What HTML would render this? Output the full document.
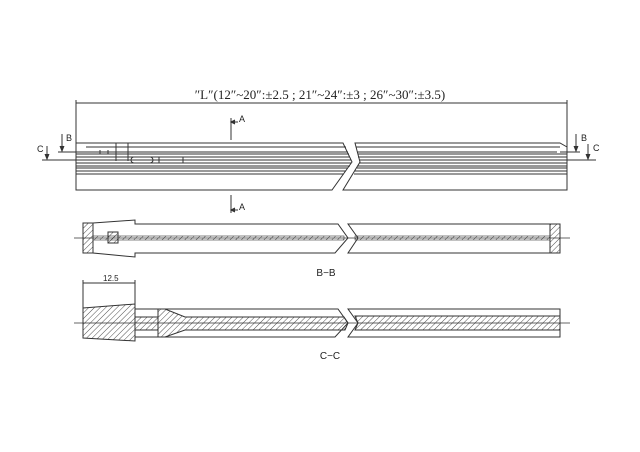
<!DOCTYPE html>
<html><head><meta charset="utf-8"><style>
body{margin:0;background:#fff}
svg{display:block}
text{font-family:"Liberation Serif","Noto Serif CJK SC",serif;fill:#222}
.s{font-family:"Liberation Sans",sans-serif}
</style></head><body>
<svg width="640" height="452" viewBox="0 0 640 452" xmlns="http://www.w3.org/2000/svg">
<defs>
<pattern id="h" width="4" height="4" patternUnits="userSpaceOnUse" patternTransform="rotate(45)">
<line x1="0" y1="0" x2="0" y2="4" stroke="#222" stroke-width="0.8"/>
</pattern>
</defs>
<g fill="none" stroke="#333" stroke-width="1">
<text x="320" y="99" text-anchor="middle" font-size="13" stroke="none">″L″(12″~20″:±2.5 ; 21″~24″:±3 ; 26″~30″:±3.5)</text>
<line x1="76" y1="103" x2="567" y2="103"/>
<line x1="76" y1="100" x2="76" y2="143"/>
<line x1="567" y1="100" x2="567" y2="148"/>
<path d="M76 143 H343 L352 162 L332 190 H76 Z"/>
<path d="M355 143 H560 L567 147 V190 H343 L360 162 Z"/>
<g stroke-width="0.9">
<line x1="86" y1="147" x2="346" y2="147"/>
<line x1="356" y1="147" x2="560" y2="147"/>
<line x1="86" y1="152" x2="348" y2="152"/><line x1="357" y1="152" x2="557" y2="152"/>
<line x1="76" y1="154" x2="349" y2="154"/><line x1="358" y1="154" x2="567" y2="154"/>
<line x1="76" y1="157" x2="350" y2="157"/><line x1="358" y1="157" x2="567" y2="157"/>
<line x1="76" y1="160" x2="351" y2="160"/><line x1="359" y1="160" x2="567" y2="160"/>
<line x1="76" y1="163" x2="351" y2="163"/><line x1="359" y1="163" x2="567" y2="163"/>
<line x1="76" y1="166" x2="350" y2="166"/><line x1="358" y1="166" x2="567" y2="166"/>
<line x1="76" y1="168" x2="348" y2="168"/><line x1="357" y1="168" x2="567" y2="168"/>
<line x1="76" y1="171" x2="346" y2="171"/><line x1="355" y1="171" x2="567" y2="171"/>
<line x1="76" y1="174" x2="344" y2="174"/><line x1="354" y1="174" x2="567" y2="174"/>
</g>
<line x1="116" y1="143" x2="116" y2="161"/><line x1="128" y1="143" x2="128" y2="161"/>
<rect x="131" y="157" width="22" height="6" rx="3"/>
<line x1="159" y1="157" x2="159" y2="163"/><line x1="183" y1="157" x2="183" y2="163"/>
<line x1="100" y1="150" x2="100" y2="154"/><line x1="108" y1="150" x2="108" y2="154"/>
<line x1="58" y1="152" x2="116" y2="152"/>
<line x1="62" y1="134" x2="62" y2="150"/><path d="M60 146 L62 151 L64 146" fill="#333"/>
<text x="66" y="141" font-size="9" class="s" stroke="none">B</text>
<line x1="42" y1="160" x2="76" y2="160"/>
<line x1="47" y1="146" x2="47" y2="158"/><path d="M45 154 L47 159 L49 154" fill="#333"/>
<text x="37" y="152" font-size="9" class="s" stroke="none">C</text>
<line x1="560" y1="152" x2="580" y2="152"/>
<line x1="576" y1="134" x2="576" y2="150"/><path d="M574 146 L576 151 L578 146" fill="#333"/>
<text x="581" y="141" font-size="9" class="s" stroke="none">B</text>
<line x1="560" y1="160" x2="596" y2="160"/>
<line x1="588" y1="144" x2="588" y2="158"/><path d="M586 154 L588 159 L590 154" fill="#333"/>
<text x="593" y="151" font-size="9" class="s" stroke="none">C</text>
<line x1="231" y1="118" x2="231" y2="140"/><line x1="231" y1="122" x2="238" y2="122"/>
<path d="M235 120 L231 122 L235 124" fill="#333"/>
<text x="239" y="122" font-size="9" class="s" stroke="none">A</text>
<line x1="231" y1="195" x2="231" y2="213"/><line x1="231" y1="210" x2="238" y2="210"/>
<path d="M235 208 L231 210 L235 212" fill="#333"/>
<text x="239" y="210" font-size="9" class="s" stroke="none">A</text>
<line x1="74" y1="238" x2="570" y2="238" stroke-width="0.7"/>
<path d="M93 223 L135 220 V224 H338 L348 238 L335 253 H135 V257 L93 253 Z"/>
<rect x="83" y="223" width="10" height="30" fill="url(#h)"/>
<path d="M348 224 H560 V253 H348 L358 238 Z"/>
<rect x="550" y="224" width="10" height="29" fill="url(#h)"/>
<rect x="93" y="236" width="251" height="4" fill="url(#h)" stroke-width="0.6"/>
<rect x="355" y="236" width="195" height="4" fill="url(#h)" stroke-width="0.6"/>
<rect x="108" y="232" width="10" height="11" fill="url(#h)"/>
<text x="326" y="276" font-size="10" class="s" stroke="none" text-anchor="middle">B−B</text>
<line x1="74" y1="323" x2="570" y2="323" stroke-width="0.7"/>
<line x1="83" y1="280" x2="83" y2="308"/><line x1="135" y1="280" x2="135" y2="304"/>
<line x1="83" y1="283" x2="135" y2="283"/>
<text x="103" y="281" font-size="8" class="s" stroke="none">12.5</text>
<path d="M83 308 L135 304 V341 L83 338 Z" fill="url(#h)"/>
<path d="M135 309 H338 L348 323 L335 337 H135"/>
<rect x="135" y="317" width="23" height="13" fill="url(#h)"/>
<path d="M158 309 H165 L185 317 H344 L348 323 L345 330 H185 L165 337 H158 Z" fill="url(#h)"/>
<path d="M348 309 H560 V337 H348 L358 323 Z"/>
<path d="M355 316 H560 V330 H355 L358 323 Z" fill="url(#h)"/>
<text x="330" y="359" font-size="10" class="s" stroke="none" text-anchor="middle">C−C</text>
</g>
</svg>
</body></html>
